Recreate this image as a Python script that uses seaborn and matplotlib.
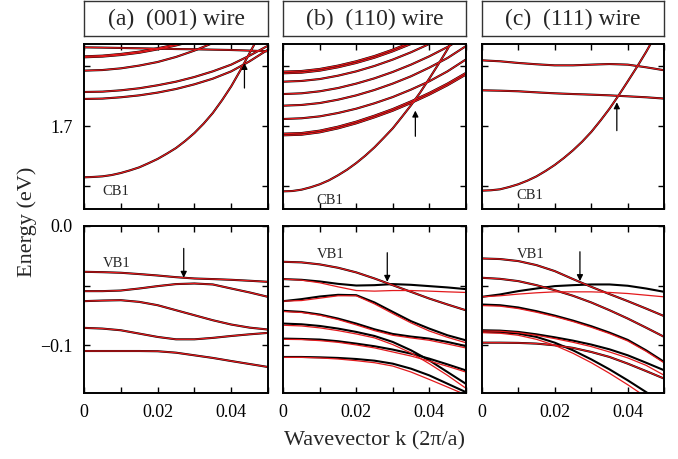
import numpy as np
import pandas as pd
import matplotlib
matplotlib.use("Agg")
import matplotlib.pyplot as plt
import seaborn as sns

# ---------------- data ----------------
k = [0.0, 0.005, 0.01, 0.015, 0.02, 0.025, 0.03, 0.035, 0.04, 0.045, 0.05]
k_fine = [0.0, 0.0025, 0.005, 0.0075, 0.01, 0.0125, 0.015, 0.0175, 0.02, 0.0225, 0.025,
          0.0275, 0.03, 0.0325, 0.035, 0.0375, 0.04, 0.0425, 0.045, 0.0475, 0.05]

# (a) (001) wire, conduction bands (eV)
a_cb1 = [1.6575, 1.6578, 1.6583, 1.6594, 1.6611, 1.6633, 1.6658, 1.6692, 1.6728, 1.6772, 1.6819,
         1.6878, 1.6944, 1.7022, 1.7111, 1.7217, 1.7333, 1.7467, 1.7611, 1.7750, 1.7889]
a_cb_flat = [1.7658, 1.7656, 1.7653, 1.7650, 1.7647, 1.7644, 1.7642, 1.7639, 1.7636, 1.7631, 1.7625]
a_cb2 = [1.7583, 1.7589, 1.7603, 1.7622, 1.7650, 1.7683, 1.7722, 1.7772, 1.7828, 1.7889, 1.7950]
a_cb2b = [1.7575, 1.7581, 1.7594, 1.7613, 1.7641, 1.7674, 1.7713, 1.7763, 1.7819, 1.7880, 1.7940]
a_cb3 = [1.7464, 1.7469, 1.7483, 1.7506, 1.7536, 1.7578, 1.7631, 1.7694, 1.7764, 1.7839, 1.7917]
a_cb4 = [1.7286, 1.7289, 1.7300, 1.7317, 1.7342, 1.7372, 1.7411, 1.7458, 1.7514, 1.7589, 1.7672]
a_cb5 = [1.7228, 1.7231, 1.7242, 1.7258, 1.7281, 1.7311, 1.7350, 1.7397, 1.7458, 1.7542, 1.7639]

# (b) (110) wire, conduction bands
b_cb1 = [1.6458, 1.6461, 1.6472, 1.6492, 1.6517, 1.6550, 1.6592, 1.6639, 1.6694, 1.6756, 1.6825,
         1.6903, 1.6983, 1.7078, 1.7175, 1.7281, 1.7397, 1.7517, 1.7642, 1.7781, 1.7922]
b_cb2a = [1.6939, 1.6944, 1.6964, 1.6997, 1.7039, 1.7089, 1.7144, 1.7208, 1.7278, 1.7356, 1.7444]
b_cb2b = [1.6925, 1.6930, 1.6950, 1.6983, 1.7025, 1.7075, 1.7130, 1.7194, 1.7264, 1.7342, 1.7430]
b_cb3 = [1.7061, 1.7067, 1.7083, 1.7111, 1.7147, 1.7192, 1.7244, 1.7306, 1.7375, 1.7458, 1.7556]
b_cb4 = [1.7172, 1.7178, 1.7194, 1.7222, 1.7258, 1.7303, 1.7356, 1.7417, 1.7489, 1.7569, 1.7667]
b_cb5 = [1.7269, 1.7275, 1.7292, 1.7319, 1.7356, 1.7400, 1.7453, 1.7514, 1.7583, 1.7661, 1.7750]
b_cb6 = [1.7372, 1.7378, 1.7394, 1.7422, 1.7458, 1.7503, 1.7556, 1.7617, 1.7686, 1.7764, 1.7847]
b_cb7a = [1.7456, 1.7461, 1.7478, 1.7506, 1.7542, 1.7586, 1.7639, 1.7700, 1.7769, 1.7847, 1.7931]
b_cb7b = [1.7442, 1.7447, 1.7464, 1.7492, 1.7528, 1.7572, 1.7625, 1.7686, 1.7755, 1.7833, 1.7917]

# (c) (111) wire, conduction bands
c_cb1 = [1.6464, 1.6467, 1.6475, 1.6494, 1.6517, 1.6547, 1.6583, 1.6628, 1.6678, 1.6736, 1.6800,
         1.6872, 1.6953, 1.7047, 1.7147, 1.7258, 1.7375, 1.7494, 1.7619, 1.7753, 1.7889]
c_cb2 = [1.7300, 1.7297, 1.7292, 1.7283, 1.7275, 1.7269, 1.7264, 1.7258, 1.7250, 1.7242, 1.7231]
c_cb3 = [1.7550, 1.7542, 1.7528, 1.7517, 1.7508, 1.7508, 1.7514, 1.7519, 1.7514, 1.7492, 1.7467]
c_cb4 = [1.7889, 1.7861, 1.7828, 1.7792, 1.7756, 1.7728, 1.7706, 1.7692, 1.7689, 1.7700, 1.7722]

# (a) valence bands
a_vb1 = [-0.0384, -0.0387, -0.0392, -0.0403, -0.0415, -0.0429, -0.0440, -0.0445, -0.0451, -0.0459, -0.0468]
a_vb2 = [-0.0546, -0.0546, -0.0541, -0.0524, -0.0504, -0.0487, -0.0482, -0.0490, -0.0524, -0.0557, -0.0594]
a_vb3 = [-0.0630, -0.0625, -0.0622, -0.0636, -0.0664, -0.0706, -0.0748, -0.0790, -0.0826, -0.0852, -0.0868]
a_vb4 = [-0.0854, -0.0860, -0.0874, -0.0902, -0.0930, -0.0950, -0.0950, -0.0938, -0.0922, -0.0908, -0.0896]
a_vb5 = [-0.1048, -0.1048, -0.1048, -0.1048, -0.1050, -0.1062, -0.1084, -0.1106, -0.1132, -0.1157, -0.1182]

# (b) valence bands: black (_k) and red (_r) calculations
b_vb1 = [-0.0300, -0.0305, -0.0322, -0.0350, -0.0389, -0.0440, -0.0496, -0.0552, -0.0608, -0.0658, -0.0706]
b_vb2_k = [-0.0445, -0.0451, -0.0465, -0.0485, -0.0499, -0.0496, -0.0487, -0.0493, -0.0504, -0.0515, -0.0529]
b_vb2_r = [-0.0445, -0.0454, -0.0476, -0.0510, -0.0541, -0.0546, -0.0541, -0.0541, -0.0546, -0.0552, -0.0557]
b_vb3_k = [-0.0630, -0.0613, -0.0591, -0.0577, -0.0580, -0.0641, -0.0720, -0.0798, -0.0860, -0.0916, -0.0958]
b_vb3_r = [-0.0630, -0.0625, -0.0605, -0.0585, -0.0585, -0.0653, -0.0734, -0.0812, -0.0880, -0.0933, -0.0978]
b_vb4_k = [-0.0711, -0.0720, -0.0742, -0.0776, -0.0818, -0.0866, -0.0905, -0.0927, -0.0944, -0.0972, -0.1006]
b_vb4_r = [-0.0717, -0.0725, -0.0748, -0.0784, -0.0829, -0.0877, -0.0916, -0.0938, -0.0958, -0.0989, -0.1022]
b_vb5_k = [-0.0818, -0.0824, -0.0838, -0.0860, -0.0888, -0.0922, -0.0972, -0.1042, -0.1126, -0.1224, -0.1322]
b_vb5_r = [-0.0832, -0.0838, -0.0854, -0.0877, -0.0905, -0.0938, -0.0994, -0.1064, -0.1154, -0.1252, -0.1359]
b_vb6_k = [-0.0944, -0.0947, -0.0952, -0.0966, -0.0986, -0.1008, -0.1036, -0.1070, -0.1112, -0.1160, -0.1210]
b_vb6_r = [-0.0950, -0.0952, -0.0961, -0.0975, -0.0997, -0.1022, -0.1056, -0.1090, -0.1132, -0.1176, -0.1224]
b_vb7_k = [-0.1098, -0.1098, -0.1101, -0.1106, -0.1115, -0.1129, -0.1154, -0.1196, -0.1252, -0.1322, -0.1392]
b_vb7_r = [-0.1101, -0.1101, -0.1106, -0.1115, -0.1129, -0.1146, -0.1174, -0.1224, -0.1286, -0.1350, -0.1415]

# (c) valence bands
c_vb1 = [-0.0272, -0.0277, -0.0294, -0.0328, -0.0378, -0.0445, -0.0510, -0.0571, -0.0630, -0.0692, -0.0756]
c_vb2 = [-0.0434, -0.0443, -0.0462, -0.0496, -0.0538, -0.0585, -0.0641, -0.0706, -0.0776, -0.0852, -0.0930]
c_vb3_k = [-0.0594, -0.0574, -0.0546, -0.0524, -0.0504, -0.0496, -0.0490, -0.0490, -0.0501, -0.0524, -0.0552]
c_vb3_r = [-0.0594, -0.0585, -0.0571, -0.0560, -0.0552, -0.0552, -0.0552, -0.0557, -0.0566, -0.0580, -0.0594]
c_vb4_k = [-0.0658, -0.0664, -0.0683, -0.0714, -0.0751, -0.0793, -0.0840, -0.0894, -0.0955, -0.1042, -0.1140]
c_vb4_r = [-0.0667, -0.0672, -0.0692, -0.0723, -0.0759, -0.0801, -0.0849, -0.0902, -0.0964, -0.1050, -0.1148]
c_vb5_k = [-0.0874, -0.0877, -0.0888, -0.0908, -0.0933, -0.0961, -0.0994, -0.1034, -0.1084, -0.1146, -0.1210]
c_vb5_r = [-0.0880, -0.0882, -0.0894, -0.0916, -0.0944, -0.0975, -0.1011, -0.1056, -0.1106, -0.1168, -0.1252]
c_vb6_k = [-0.0888, -0.0891, -0.0902, -0.0930, -0.0978, -0.1042, -0.1118, -0.1202, -0.1294, -0.1392, -0.1490]
c_vb6_r = [-0.0894, -0.0899, -0.0916, -0.0950, -0.1000, -0.1067, -0.1146, -0.1235, -0.1331, -0.1434, -0.1532]
c_vb7 = [-0.0978, -0.0978, -0.0980, -0.0986, -0.1000, -0.1022, -0.1056, -0.1098, -0.1154, -0.1216, -0.1280]

titles = ["(a)  (001) wire", "(b)  (110) wire", "(c)  (111) wire"]
x_ticks = [0.0, 0.01, 0.02, 0.03, 0.04, 0.05]
x_ticklabels = ["0", "", "0.02", "", "0.04", ""]
cb_ticks = [1.65, 1.70, 1.75]
cb_ticklabels = ["", "1.7", ""]
vb_ticks = [-0.10, -0.05, 0.0]
vb_ticklabels = ["\u22120.1", "", "0.0"]

# ---------------- style ----------------
sns.set_style("ticks")
plt.rcParams["font.family"] = ["Liberation Serif", "DejaVu Serif"]

RED = "#e3191c"

fig = plt.figure(figsize=(6.78, 4.59), dpi=100)
W, H = 678.0, 459.0

cols_px = [(84.0, 268.0), (283.3, 465.7), (481.7, 664.3)]
top_px = (44.0, 209.0)
bot_px = (226.0, 393.0)


def ax_at(x0, x1, y0, y1):
    return fig.add_axes([x0 / W, 1 - y1 / H, (x1 - x0) / W, (y1 - y0) / H])


def draw(ax, bands):
    rows = []
    for i, (kx, blk, red) in enumerate(bands):
        for kk, e in zip(kx, blk):
            rows.append(("black", i, kk, e))
        for kk, e in zip(kx, red):
            rows.append(("red", i, kk, e))
    df = pd.DataFrame(rows, columns=["calc", "band", "k", "E"])
    sns.lineplot(data=df[df.calc == "black"], x="k", y="E", units="band",
                 estimator=None, sort=False, color="black", lw=1.5, ax=ax, legend=False)
    sns.lineplot(data=df[df.calc == "red"], x="k", y="E", units="band",
                 estimator=None, sort=False, color=RED, lw=0.9, ax=ax, legend=False)


def same(*arrs):
    return [(k, a, a) for a in arrs]


def pair(a, b):
    return (k, a, b)


cb_sets = [
    [(k_fine, a_cb1, a_cb1)] + same(a_cb_flat, a_cb2, a_cb2b, a_cb3, a_cb4, a_cb5),
    [(k_fine, b_cb1, b_cb1)] + same(b_cb2a, b_cb2b, b_cb3, b_cb4, b_cb5, b_cb6, b_cb7a, b_cb7b),
    [(k_fine, c_cb1, c_cb1)] + same(c_cb2, c_cb3, c_cb4),
]
vb_sets = [
    same(a_vb1, a_vb2, a_vb3, a_vb4, a_vb5),
    [pair(b_vb1, b_vb1), pair(b_vb2_k, b_vb2_r), pair(b_vb3_k, b_vb3_r), pair(b_vb4_k, b_vb4_r),
     pair(b_vb5_k, b_vb5_r), pair(b_vb6_k, b_vb6_r), pair(b_vb7_k, b_vb7_r)],
    [pair(c_vb1, c_vb1), pair(c_vb2, c_vb2), pair(c_vb3_k, c_vb3_r), pair(c_vb4_k, c_vb4_r),
     pair(c_vb5_k, c_vb5_r), pair(c_vb6_k, c_vb6_r), pair(c_vb7, c_vb7)],
]

cb_label_pos = [(0.171, 0.105), (0.256, 0.052), (0.266, 0.079)]
vb_label_pos = [(0.176, 0.775), (0.259, 0.832), (0.269, 0.832)]
cb_arrows = [(0.0436, 1.7319, 1.7528), (0.0362, 1.6917, 1.7131), (0.0370, 1.6964, 1.7200)]
vb_arrows = [(0.0271, -0.0188, -0.0434), (0.0285, -0.0224, -0.0468), (0.0269, -0.0216, -0.0462)]


def style(ax, yt, ytl, show_y, show_x):
    ax.set_xlim(0, 0.05)
    ax.set_xticks(x_ticks)
    ax.set_xticklabels(x_ticklabels if show_x else [""] * len(x_ticks))
    ax.set_yticks(yt)
    ax.set_yticklabels(ytl if show_y else [""] * len(yt))
    ax.tick_params(direction="in", length=4, width=1.0, top=True, right=True,
                   labelsize=13, pad=8, colors="black")
    for s in ax.spines.values():
        s.set_linewidth(1.4)
        s.set_color("black")
    ax.set_xlabel("")
    ax.set_ylabel("")


for i, (x0, x1) in enumerate(cols_px):
    # title box
    tax = ax_at(x0, x1, 1.0, 36.0)
    tax.set_xticks([])
    tax.set_yticks([])
    for s in tax.spines.values():
        s.set_linewidth(1.0)
        s.set_color("#333333")
    tax.text(0.5, 0.47, titles[i], ha="center", va="center", fontsize=17,
             transform=tax.transAxes)

    # conduction bands
    axt = ax_at(x0, x1, *top_px)
    draw(axt, cb_sets[i])
    axt.set_ylim(1.6311, 1.7686)
    style(axt, cb_ticks, cb_ticklabels, i == 0, False)
    axt.text(*cb_label_pos[i], "CB1", transform=axt.transAxes, ha="center",
             va="center", fontsize=10.5)
    kx, e0, e1 = cb_arrows[i]
    axt.annotate("", xy=(kx, e1), xytext=(kx, e0),
                 arrowprops=dict(arrowstyle="-|>", color="black", lw=0.9,
                                 mutation_scale=9, shrinkA=0, shrinkB=0))

    # valence bands
    axb = ax_at(x0, x1, *bot_px)
    draw(axb, vb_sets[i])
    axb.set_ylim(-0.14, 0.0)
    style(axb, vb_ticks, vb_ticklabels, i == 0, True)
    axb.text(*vb_label_pos[i], "VB1", transform=axb.transAxes, ha="center",
             va="center", fontsize=10.5)
    kx, e0, e1 = vb_arrows[i]
    axb.annotate("", xy=(kx, e1), xytext=(kx, e0),
                 arrowprops=dict(arrowstyle="-|>", color="black", lw=0.9,
                                 mutation_scale=9, shrinkA=0, shrinkB=0))

fig.text(27 / W, 1 - 222 / H, "Energy (eV)", rotation=90, ha="center",
         va="center", fontsize=16)
fig.text(374 / W, 1 - 441 / H, "Wavevector k (2\u03c0/a)", ha="center",
         va="center", fontsize=16)

fig.savefig("out.png", dpi=100)
